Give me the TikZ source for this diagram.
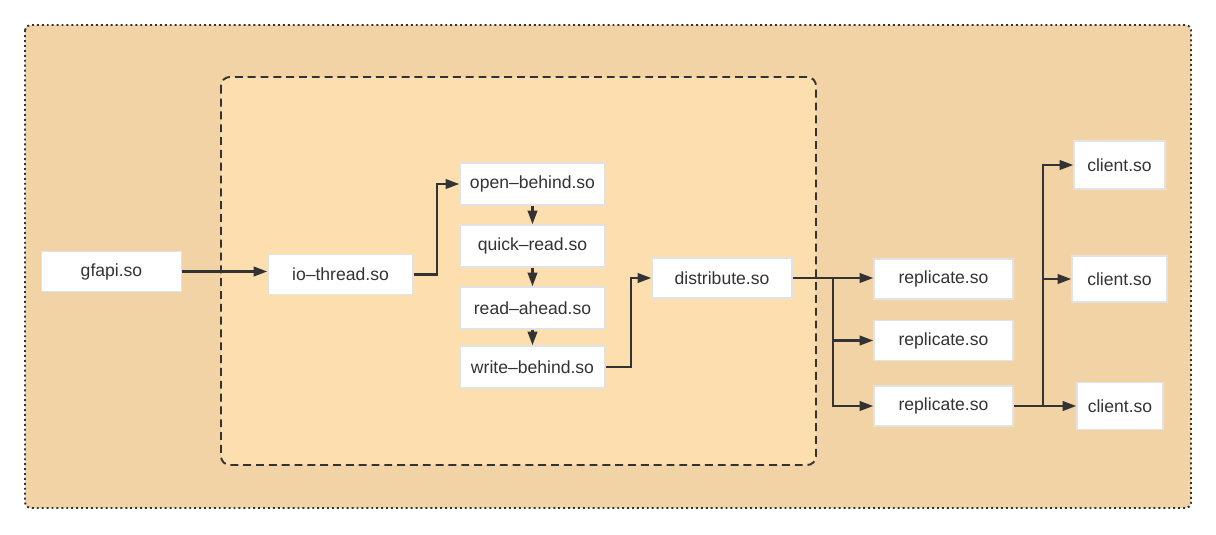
\documentclass[tikz,border=0pt]{standalone}
\usepackage{fontspec}
\setmainfont{Liberation Sans}
\usetikzlibrary{arrows.meta, positioning}
\definecolor{outerfill}{HTML}{F1D3A5}
\definecolor{innerfill}{HTML}{FDDFAF}
\definecolor{ink}{HTML}{333333}
\definecolor{edge}{HTML}{E2E2E2}

\begin{document}
\begin{tikzpicture}[
    x=0.02cm, y=-0.02cm,
    box/.style={draw=edge, fill=white, line width=0.9pt, minimum width=2.8cm,
                minimum height=0.8cm, text=ink, font=\fontsize{10}{12}\selectfont},
    link/.style={draw=ink, line width=1.2pt,
                 -{Triangle[length=0.27cm, width=0.19cm]}}
]
  \useasboundingbox (0,0) rectangle (1216,534);
  % frames
  \draw[fill=outerfill, draw=ink, line width=1.1pt, dash pattern=on 1.1pt off 1.7pt,
        rounded corners=3] (25,25) rectangle (1191,508);
  \draw[fill=innerfill, draw=ink, line width=1.1pt, dash pattern=on 4.5pt off 2.8pt,
        rounded corners=5] (221,77) rectangle (816,465);

  \node[box] (gfapi) at (111.5,271.5) {gfapi.so};
  \node[box, minimum width=2.9cm] (io) at (340.5,274.5) {io–thread.so};
  \foreach \n/\t/\y in {ob/open–behind.so/184, qr/quick–read.so/246,
                        ra/read–ahead.so/308, wb/write–behind.so/367} {
    \node[box, minimum width=2.9cm, minimum height=0.84cm] (\n) at (532.5,\y) {\t};
  }
  \node[box] (dist) at (722,278) {distribute.so};
  \foreach \i/\y in {1/279, 2/340.5, 3/406} {
    \node[box, minimum width=2.78cm] (r\i) at (943.5,\y) {replicate.so};
  }
  \node[box, minimum width=1.82cm, minimum height=0.96cm] (c1) at (1119.5,165) {client.so};
  \node[box, minimum width=1.9cm, minimum height=0.92cm] (c2) at (1119.5,279) {client.so};
  \node[box, minimum width=1.72cm, minimum height=0.94cm] (c3) at (1120,406) {client.so};

  \coordinate (split) at (833,279);
  \coordinate (fan) at (1043,406);

  \draw[link] (gfapi.east) -- (gfapi.east -| io.west);
  \draw[link] (io.east) -- ++(23,0) |- (ob.west);
  \draw[link] (ob) -- (qr);
  \draw[link] (qr) -- (ra);
  \draw[link] (ra) -- (wb);
  \draw[link] (wb.east) -- ++(25,0) |- (dist.west);
  \draw[link] (dist.east) -- (dist.east -| r1.west);
  \draw[link] (split) |- (r2.west);
  \draw[link] (split) |- (r3.west);
  \draw[link] (r3.east) -- (c3.west);
  \draw[link] (fan) |- (c2.west);
  \draw[link] (fan) |- (c1.west);
\end{tikzpicture}
\end{document}
